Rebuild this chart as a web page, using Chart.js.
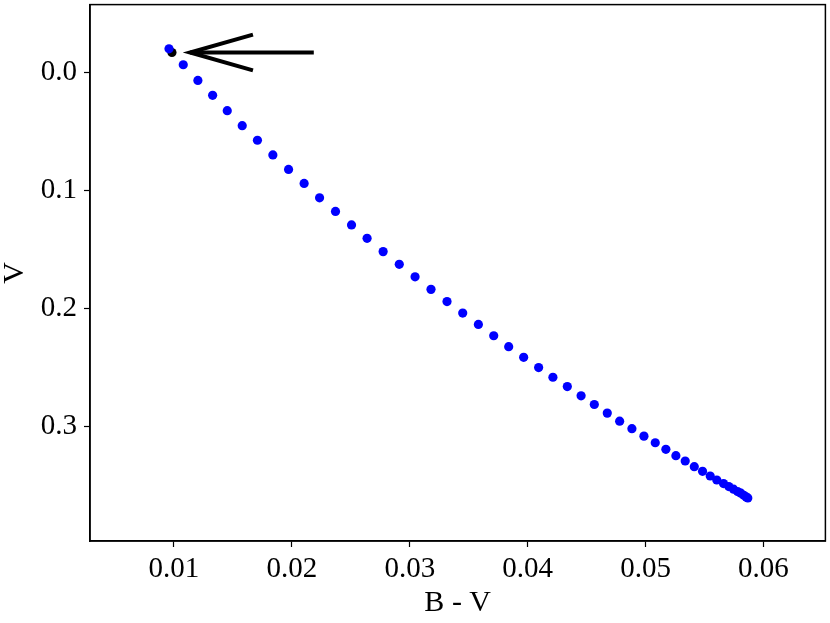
<!DOCTYPE html>
<html>
<head>
<meta charset="utf-8">
<script src="https://cdn.jsdelivr.net/npm/chart.js@4.4.0/dist/chart.umd.min.js"></script>
<style>
  html, body { margin: 0; padding: 0; background: #fff; }
  #wrap { width: 830px; height: 623px; }
</style>
</head>
<body>
<div id="wrap"><canvas id="cmd"></canvas></div>
<script>
// B - V colour and V magnitude along the track
const bv = [0.00958, 0.01079, 0.01203, 0.01328, 0.01452, 0.01579, 0.01708, 0.01839, 0.01972, 0.02104,
    0.02235, 0.02370, 0.02506, 0.02638, 0.02774, 0.02911, 0.03045, 0.03180, 0.03316, 0.03449,
    0.03582, 0.03712, 0.03839, 0.03966, 0.04093, 0.04214, 0.04336, 0.04453, 0.04565, 0.04675,
    0.04780, 0.04884, 0.04986, 0.05082, 0.05172, 0.05257, 0.05336, 0.05413, 0.05483, 0.05548,
    0.05604, 0.05661, 0.05706, 0.05746, 0.05780, 0.05808, 0.05833, 0.05853, 0.05867];
const vmag = [-0.0200, -0.0065, 0.0068, 0.0194, 0.0324, 0.0451, 0.0575, 0.0699, 0.0822, 0.0941,
    0.1063, 0.1178, 0.1293, 0.1406, 0.1519, 0.1627, 0.1733, 0.1839, 0.1942, 0.2040,
    0.2136, 0.2232, 0.2325, 0.2415, 0.2502, 0.2584, 0.2663, 0.2741, 0.2815, 0.2888,
    0.2956, 0.3020, 0.3083, 0.3139, 0.3195, 0.3249, 0.3294, 0.3342, 0.3381, 0.3421,
    0.3455, 0.3485, 0.3511, 0.3533, 0.3553, 0.3567, 0.3584, 0.3598, 0.3607];

// starting point (black) and the arrow pointing at it
const startBV = [0.00983];
const startV = [-0.0169];
const arrowFrom = [0.02186, -0.0169];
const arrowTo = [0.01136, -0.0169];
const arrowWingX = 0.01670;
const arrowWingY = [-0.0321, -0.0017];

const xTicks = [0.01, 0.02, 0.03, 0.04, 0.05, 0.06];
const yTicks = [0.0, 0.1, 0.2, 0.3];

const FONT = "'Liberation Serif', 'DejaVu Serif', serif";

const boxAndArrow = {
    id: 'boxAndArrow',
    afterDatasetsDraw(chart) {
        const { ctx, chartArea: a, scales: { x, y } } = chart;
        ctx.save();
        // arrow
        ctx.strokeStyle = '#000';
        ctx.lineWidth = 4;
        ctx.lineCap = 'butt';
        ctx.beginPath();
        ctx.moveTo(x.getPixelForValue(arrowFrom[0]), y.getPixelForValue(arrowFrom[1]));
        ctx.lineTo(x.getPixelForValue(arrowTo[0]), y.getPixelForValue(arrowTo[1]));
        ctx.stroke();
        ctx.beginPath();
        ctx.moveTo(x.getPixelForValue(arrowWingX), y.getPixelForValue(arrowWingY[0]));
        ctx.lineTo(x.getPixelForValue(arrowTo[0]), y.getPixelForValue(arrowTo[1]));
        ctx.lineTo(x.getPixelForValue(arrowWingX), y.getPixelForValue(arrowWingY[1]));
        ctx.stroke();
        // frame
        ctx.lineWidth = 1.5;
        ctx.strokeRect(a.left, a.top, a.right - a.left, a.bottom - a.top);
        ctx.restore();
    }
};

new Chart(document.getElementById('cmd'), {
    type: 'scatter',
    data: {
        datasets: [
            {
                label: 'track',
                data: bv.map((b, i) => ({ x: b, y: vmag[i] })),
                backgroundColor: '#0000ff',
                borderWidth: 0,
                pointRadius: 4.6
            },
            {
                label: 'start',
                data: startBV.map((b, i) => ({ x: b, y: startV[i] })),
                backgroundColor: '#000000',
                borderWidth: 0,
                pointRadius: 4.6
            }
        ]
    },
    options: {
        responsive: true,
        maintainAspectRatio: false,
        animation: false,
        layout: { padding: { left: 0, top: 3, right: 4, bottom: 0 } },
        plugins: { legend: { display: false }, tooltip: { enabled: false } },
        scales: {
            x: {
                type: 'linear',
                min: 0.00288,
                max: 0.06525,
                afterBuildTicks: s => { s.ticks = xTicks.map(v => ({ value: v })); },
                afterFit: s => { s.height = 82; s.paddingLeft = 0; s.paddingRight = 0; },
                grid: { drawOnChartArea: false, tickLength: 6, color: '#000', tickWidth: 1.2 },
                border: { display: true, color: '#000', width: 1.5 },
                ticks: {
                    color: '#000',
                    font: { family: FONT, size: 29, lineHeight: 1.0 },
                    padding: 8,
                    maxRotation: 0,
                    callback: v => v.toFixed(2)
                },
                title: {
                    display: true,
                    text: 'B - V',
                    color: '#000',
                    font: { family: FONT, size: 30, lineHeight: 1.0 },
                    padding: { top: 0, bottom: 5 }
                }
            },
            y: {
                type: 'linear',
                reverse: true,
                min: -0.0575,
                max: 0.3972,
                afterBuildTicks: s => { s.ticks = yTicks.map(v => ({ value: v })); },
                afterFit: s => { s.width = 90; s.paddingTop = 0; s.paddingBottom = 0; },
                grid: { drawOnChartArea: false, tickLength: 6, color: '#000', tickWidth: 1.2 },
                border: { display: true, color: '#000', width: 1.5 },
                ticks: {
                    color: '#000',
                    font: { family: FONT, size: 29, lineHeight: 1.0 },
                    padding: 7,
                    callback: v => v.toFixed(1)
                },
                title: {
                    display: true,
                    text: 'V',
                    color: '#000',
                    font: { family: FONT, size: 30, lineHeight: 1.0 },
                    padding: { top: 0, bottom: 0 }
                }
            }
        }
    },
    plugins: [boxAndArrow]
});
</script>
</body>
</html>
